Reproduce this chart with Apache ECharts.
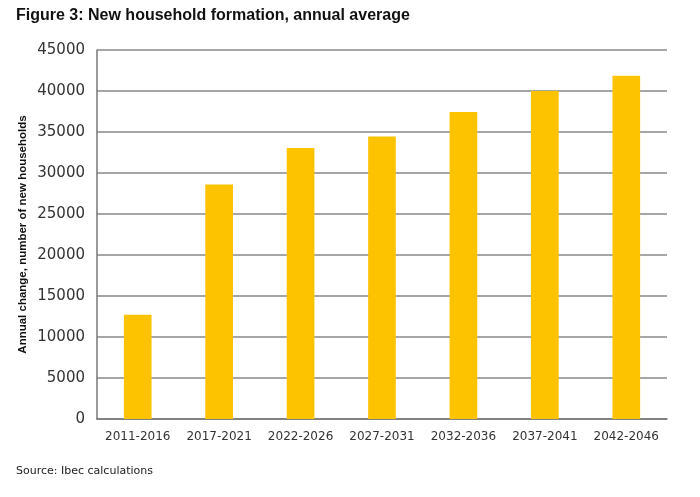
<!DOCTYPE html>
<html><head><meta charset="utf-8">
<script src="https://cdn.jsdelivr.net/npm/echarts@6/dist/echarts.min.js"></script>
<style>html,body{margin:0;padding:0;background:#fff}#c{width:700px;height:497px}</style>
</head><body><div id="c"></div>
<script>
const categories = ['2011-2016','2017-2021','2022-2026','2027-2031','2032-2036','2037-2041','2042-2046'];
const households = [12700, 28600, 33050, 34450, 37450, 40000, 41850];
const titleText = 'Figure 3: New household formation, annual average';
const yAxisName = 'Annual change, number of new households';
const sourceText = 'Source: Ibec calculations';

const chart = echarts.init(document.getElementById('c'), null, {renderer:'canvas'});
chart.setOption({
  animation:false,
  backgroundColor:'#fff',
  title:[{
    text:titleText, left:11, top:3,
    textStyle:{fontFamily:'Liberation Sans', fontWeight:'bold', fontSize:16, color:'#111'}
  },{
    text:sourceText, left:11, top:461,
    textStyle:{fontFamily:'DejaVu Sans', fontWeight:'normal', fontSize:11, color:'#222'}
  }],
  grid:{left:97, right:33, top:50, bottom:78, containLabel:false},
  xAxis:{
    type:'category', data:categories,
    axisLine:{show:true, lineStyle:{color:'#777', width:1.5}},
    axisTick:{show:false},
    axisLabel:{interval:0, fontFamily:'DejaVu Sans', fontSize:12, color:'#333', margin:12}
  },
  yAxis:{
    type:'value', min:0, max:45000, interval:5000,
    name:yAxisName, nameLocation:'middle', nameGap:68, nameRotate:90, nameMoveOverlap:false,
    nameTextStyle:{fontFamily:'Liberation Sans', fontWeight:'bold', fontSize:11.5, color:'#111'},
    axisLine:{show:true, lineStyle:{color:'#777', width:1.5}},
    axisTick:{show:false},
    axisLabel:{fontFamily:'DejaVu Sans', fontSize:15, color:'#333', margin:12,
      formatter:function(v){return String(v);}},
    splitLine:{show:true, lineStyle:{color:'#888', width:1.5}}
  },
  series:[{
    type:'bar', data:households, barWidth:'34%',
    itemStyle:{color:'#FDC300'}
  }]
});
</script></body></html>
